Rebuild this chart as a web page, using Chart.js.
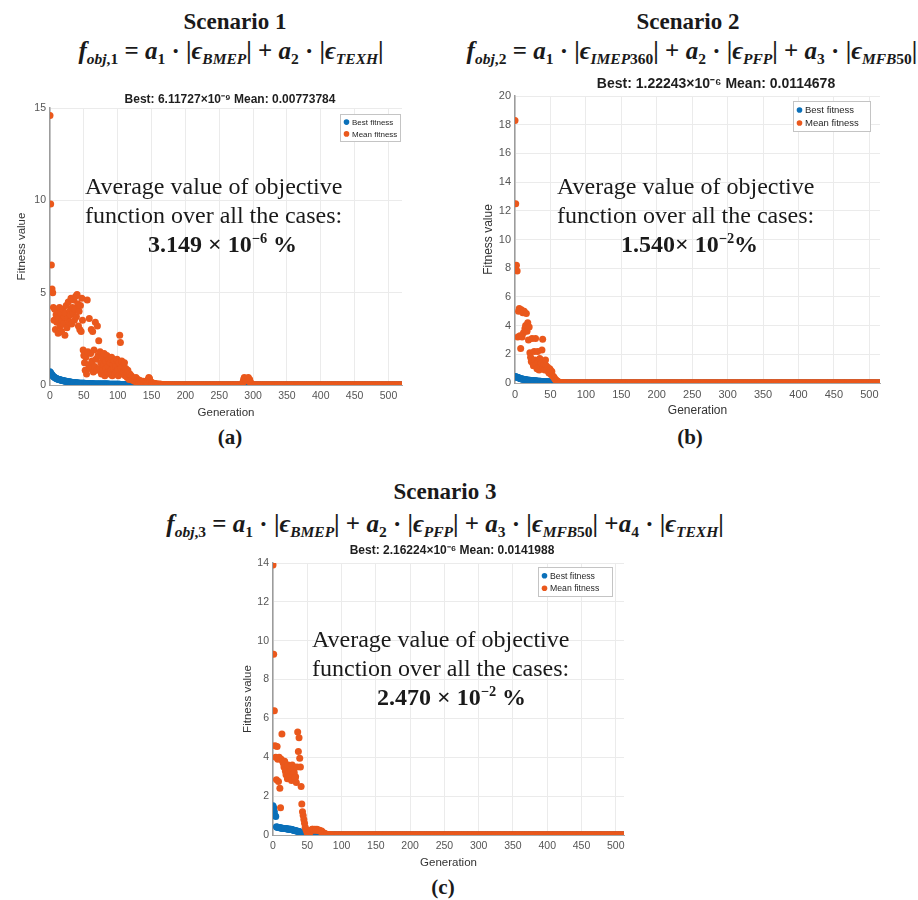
<!DOCTYPE html>
<html>
<head>
<meta charset="utf-8">
<script src="https://cdn.jsdelivr.net/npm/chart.js@4.4.0/dist/chart.umd.min.js"></script>
<style>
body { margin: 0; width: 918px; height: 900px; position: relative; overflow: hidden; background: #fff; color: #1a1a1a; font-family: "Liberation Serif", "Times New Roman", serif; }
canvas { position: absolute; }
.c { position: absolute; transform: translate(-50%, -50%); white-space: nowrap; }
.scen { font-weight: bold; font-size: 23px; }
.formula { font-weight: bold; font-size: 25px; }
.formula sub { font-size: 0.62em; vertical-align: 0; position: relative; top: 0.32em; }
.note { position: absolute; font-size: 24px; line-height: 29px; white-space: nowrap; }
.note sup { font-size: 0.6em; vertical-align: 0; position: relative; top: -0.6em; }
.tag { font-weight: bold; font-size: 21px; }
</style>
</head>
<body>

<div class="c scen" style="left:235px;top:22px">Scenario 1</div>
<div class="c formula" style="left:231px;top:51px"><i>f</i><sub><i>obj</i>,1</sub> = <i>a</i><sub>1</sub> · |<i>ϵ</i><sub><i>BMEP</i></sub>| + <i>a</i><sub>2</sub> · |<i>ϵ</i><sub><i>TEXH</i></sub>|</div>

<div class="c scen" style="left:688px;top:22px">Scenario 2</div>
<div class="c formula" style="left:692px;top:51px"><i>f</i><sub><i>obj</i>,2</sub> = <i>a</i><sub>1</sub> · |<i>ϵ</i><sub><i>IMEP</i>360</sub>| + <i>a</i><sub>2</sub> · |<i>ϵ</i><sub><i>PFP</i></sub>| + <i>a</i><sub>3</sub> · |<i>ϵ</i><sub><i>MFB</i>50</sub>|</div>

<div class="c scen" style="left:445px;top:492px">Scenario 3</div>
<div class="c formula" style="left:445px;top:524px"><i>f</i><sub><i>obj</i>,3</sub> = <i>a</i><sub>1</sub> · |<i>ϵ</i><sub><i>BMEP</i></sub>| + <i>a</i><sub>2</sub> · |<i>ϵ</i><sub><i>PFP</i></sub>| + <i>a</i><sub>3</sub> · |<i>ϵ</i><sub><i>MFB</i>50</sub>| +<i>a</i><sub>4</sub> · |<i>ϵ</i><sub><i>TEXH</i></sub>|</div>

<div class="c tag" style="left:230px;top:437px">(a)</div>
<div class="c tag" style="left:690px;top:437px">(b)</div>
<div class="c tag" style="left:443px;top:887px">(c)</div>

<script>
// generation axis ends
const xMaxA = 520, xMaxB = 515, xMaxC = 512;
const yMaxA = 15, yMaxB = 20, yMaxC = 14;
const yStepA = 5, yStepB = 2, yStepC = 2;

const titleA = 'Best: 6.11727\u00d710\u207b\u2079 Mean: 0.00773784';
const titleB = 'Best: 1.22243\u00d710\u207b\u2076 Mean: 0.0114678';
const titleC = 'Best: 2.16224\u00d710\u207b\u2076 Mean: 0.0141988';
const seriesNames = ['Best fitness', 'Mean fitness'];

// scenario 1, one value per generation
const meanA = [
  14.6, 9.8, 6.5, 5.2, 5.0, 4.2, 3.5, 4.1, 3.0, 3.8, 3.4, 4.0, 2.8, 3.6, 4.2, 3.2, 3.9, 2.9, 3.5, 4.1,
  3.3, 3.7, 2.7, 3.9, 4.3, 3.1, 3.6, 4.5, 3.4, 4.0, 3.8, 4.7, 3.3, 4.2, 3.9, 4.6, 3.5, 4.1, 4.8, 3.7,
  4.9, 4.4, 3.2, 4.0, 3.0, 4.3, 2.9, 4.7, 3.5, 1.9, 1.6, 1.2, 0.8, 1.5, 0.6, 4.6, 1.8, 1.1, 3.6, 0.9,
  1.7, 3.0, 1.3, 2.9, 0.7, 1.9, 1.0, 3.4, 1.4, 0.8, 3.2, 1.6, 2.4, 0.9, 1.8, 1.2, 0.6, 1.5, 0.8, 1.1,
  1.7, 0.5, 1.3, 0.9, 1.6, 0.7, 1.0, 1.4, 0.6, 1.2, 0.8, 1.5, 0.5, 1.1, 0.9, 1.3, 0.6, 1.0, 0.7, 1.4,
  0.8, 0.5, 1.2, 2.7, 2.3, 0.9, 1.3, 0.6, 1.0, 0.7, 1.2, 0.5, 0.9, 0.6, 0.4, 0.8, 0.5, 0.3, 0.6, 0.4,
  0.5, 0.3, 0.4, 0.25, 0.35, 0.2, 0.3, 0.4, 0.15, 0.25, 0.3, 0.2, 0.15, 0.25, 0.1, 0.2, 0.15, 0.1, 0.2, 0.12,
  0.1, 0.15, 0.12, 0.2, 0.1, 0.3, 0.4, 0.35, 0.2, 0.1, 0.15, 0.1, 0.08, 0.1, 0.06, 0.08, 0.05, 0.06, 0.04, 0.05,
  0.04, 0.03, 0.05, 0.03, 0.04, 0.03, 0.03, 0.02, 0.03, 0.02, 0.02, 0.02, 0.01, 0.02, 0.01, 0.01, 0.01, 0, 0, 0,
  0,0,0,0,0, 0,0,0,0,0, 0,0,0,0,0, 0,0,0,0,0,
  0,0,0,0,0, 0,0,0,0,0, 0,0,0,0,0, 0,0,0,0,0,
  0,0,0,0,0, 0,0,0,0,0, 0,0,0,0,0, 0,0,0,0,0,
  0,0,0,0,0, 0,0,0,0,0, 0,0,0,0,0, 0,0,0,0,0,
  0,0,0,0,0, 0,0,0,0,0, 0,0,0,0,0, 0,0,0,0,0,
  0, 0, 0, 0, 0, 0.15, 0.3, 0.4, 0.35, 0.3, 0.25, 0.35, 0.3, 0.4, 0.2, 0.3, 0.15, 0.1, 0.05, 0,
  0,0,0,0,0, 0,0,0,0,0, 0,0,0,0,0, 0,0,0,0,0,
  0,0,0,0,0, 0,0,0,0,0, 0,0,0,0,0, 0,0,0,0,0,
  0,0,0,0,0, 0,0,0,0,0, 0,0,0,0,0, 0,0,0,0,0,
  0,0,0,0,0, 0,0,0,0,0, 0,0,0,0,0, 0,0,0,0,0,
  0,0,0,0,0, 0,0,0,0,0, 0,0,0,0,0, 0,0,0,0,0,
  0,0,0,0,0, 0,0,0,0,0, 0,0,0,0,0, 0,0,0,0,0,
  0,0,0,0,0, 0,0,0,0,0, 0,0,0,0,0, 0,0,0,0,0,
  0,0,0,0,0, 0,0,0,0,0, 0,0,0,0,0, 0,0,0,0,0,
  0,0,0,0,0, 0,0,0,0,0, 0,0,0,0,0, 0,0,0,0,0,
  0,0,0,0,0, 0,0,0,0,0, 0,0,0,0,0, 0,0,0,0,0,
  0,0,0,0,0, 0,0,0,0,0, 0,0,0,0,0, 0,0,0,0,0,
  0
];
const bestA = [
  0.72, 0.66, 0.6, 0.55, 0.5, 0.46, 0.43, 0.4, 0.38, 0.36, 0.34, 0.32, 0.31, 0.3, 0.29, 0.28, 0.27, 0.26, 0.25, 0.24,
  0.23, 0.22, 0.21, 0.2, 0.2, 0.19, 0.18, 0.18, 0.17, 0.16, 0.16, 0.15, 0.15, 0.14, 0.14, 0.13, 0.13, 0.12, 0.12, 0.12,
  0.11, 0.11, 0.11, 0.1, 0.1, 0.1, 0.1, 0.09, 0.09, 0.09, 0.09, 0.09, 0.08, 0.08, 0.08, 0.08, 0.08, 0.08, 0.07, 0.07,
  0.07, 0.07, 0.07, 0.07, 0.07, 0.06, 0.06, 0.06, 0.06, 0.06, 0.06, 0.06, 0.06, 0.05, 0.05, 0.05, 0.05, 0.05, 0.05, 0.05,
  0.05, 0.05, 0.05, 0.05, 0.05, 0.05, 0.05, 0.04, 0.04, 0.04, 0.04, 0.04, 0.04, 0.04, 0.04, 0.04, 0.04, 0.04, 0.04, 0.04,
  0.04, 0.04, 0.04, 0.04, 0.03, 0.03, 0.03, 0.03, 0.03, 0.03, 0.03, 0.03, 0.03, 0.03, 0.03, 0.03, 0.03, 0.03, 0.03, 0.03,
  0.03, 0.03, 0.03, 0.03, 0.03, 0.02, 0.02, 0.02, 0.02, 0.02, 0.02, 0.02, 0.02, 0.02, 0.02, 0.02, 0.02, 0.02, 0.02, 0.02,
  0.02, 0.02, 0.02, 0.02, 0.02, 0.02, 0.02, 0.02, 0.02, 0.02, 0.01, 0.01, 0.01, 0.01, 0.01, 0.01, 0.01, 0.01, 0.01, 0.01,
  0.01, 0.01, 0.01, 0.01, 0.01, 0.01, 0.01, 0.01, 0.01, 0.01, 0, 0, 0, 0, 0, 0, 0, 0, 0, 0,
  0,0,0,0,0, 0,0,0,0,0, 0,0,0,0,0, 0,0,0,0,0,
  0,0,0,0,0, 0,0,0,0,0, 0,0,0,0,0, 0,0,0,0,0,
  0,0,0,0,0, 0,0,0,0,0, 0,0,0,0,0, 0,0,0,0,0,
  0,0,0,0,0, 0,0,0,0,0, 0,0,0,0,0, 0,0,0,0,0,
  0,0,0,0,0, 0,0,0,0,0, 0,0,0,0,0, 0,0,0,0,0,
  0, 0, 0, 0, 0, 0.03, 0.05, 0.08, 0.1, 0.1, 0.08, 0.06, 0.05, 0.04, 0.03, 0.02, 0.01, 0, 0, 0,
  0,0,0,0,0, 0,0,0,0,0, 0,0,0,0,0, 0,0,0,0,0,
  0,0,0,0,0, 0,0,0,0,0, 0,0,0,0,0, 0,0,0,0,0,
  0,0,0,0,0, 0,0,0,0,0, 0,0,0,0,0, 0,0,0,0,0,
  0,0,0,0,0, 0,0,0,0,0, 0,0,0,0,0, 0,0,0,0,0,
  0,0,0,0,0, 0,0,0,0,0, 0,0,0,0,0, 0,0,0,0,0,
  0,0,0,0,0, 0,0,0,0,0, 0,0,0,0,0, 0,0,0,0,0,
  0,0,0,0,0, 0,0,0,0,0, 0,0,0,0,0, 0,0,0,0,0,
  0,0,0,0,0, 0,0,0,0,0, 0,0,0,0,0, 0,0,0,0,0,
  0,0,0,0,0, 0,0,0,0,0, 0,0,0,0,0, 0,0,0,0,0,
  0,0,0,0,0, 0,0,0,0,0, 0,0,0,0,0, 0,0,0,0,0,
  0,0,0,0,0, 0,0,0,0,0, 0,0,0,0,0, 0,0,0,0,0,
  0
];

// scenario 2
const meanB = [
  18.3, 12.5, 8.2, 7.8, 3.2, 5.0, 5.2, 3.3, 2.4, 5.1, 3.2, 4.9, 3.5, 5.0, 3.8, 4.0, 4.85, 3.6, 4.2, 3.0,
  3.9, 2.1, 1.8, 1.5, 3.1, 1.4, 1.2, 2.2, 1.6, 3.1, 1.3, 1.0, 2.2, 1.5, 0.9, 1.7, 1.2, 1.4, 2.3, 3.05,
  1.1, 1.3, 0.9, 1.6, 1.2, 0.95, 1.1, 0.8, 0.7, 1.0, 0.9, 0.6, 0.8, 0.5, 0.45, 0.4, 0.3, 0.25, 0.2, 0.15,
  0.1, 0.08, 0.06, 0.05, 0.04, 0.03, 0.02, 0.02, 0.01, 0.01, 0, 0, 0, 0, 0, 0, 0, 0, 0, 0,
  0,0,0,0,0, 0,0,0,0,0, 0,0,0,0,0, 0,0,0,0,0,
  0,0,0,0,0, 0,0,0,0,0, 0,0,0,0,0, 0,0,0,0,0,
  0,0,0,0,0, 0,0,0,0,0, 0,0,0,0,0, 0,0,0,0,0,
  0,0,0,0,0, 0,0,0,0,0, 0,0,0,0,0, 0,0,0,0,0,
  0,0,0,0,0, 0,0,0,0,0, 0,0,0,0,0, 0,0,0,0,0,
  0,0,0,0,0, 0,0,0,0,0, 0,0,0,0,0, 0,0,0,0,0,
  0,0,0,0,0, 0,0,0,0,0, 0,0,0,0,0, 0,0,0,0,0,
  0,0,0,0,0, 0,0,0,0,0, 0,0,0,0,0, 0,0,0,0,0,
  0,0,0,0,0, 0,0,0,0,0, 0,0,0,0,0, 0,0,0,0,0,
  0,0,0,0,0, 0,0,0,0,0, 0,0,0,0,0, 0,0,0,0,0,
  0,0,0,0,0, 0,0,0,0,0, 0,0,0,0,0, 0,0,0,0,0,
  0,0,0,0,0, 0,0,0,0,0, 0,0,0,0,0, 0,0,0,0,0,
  0,0,0,0,0, 0,0,0,0,0, 0,0,0,0,0, 0,0,0,0,0,
  0,0,0,0,0, 0,0,0,0,0, 0,0,0,0,0, 0,0,0,0,0,
  0,0,0,0,0, 0,0,0,0,0, 0,0,0,0,0, 0,0,0,0,0,
  0,0,0,0,0, 0,0,0,0,0, 0,0,0,0,0, 0,0,0,0,0,
  0,0,0,0,0, 0,0,0,0,0, 0,0,0,0,0, 0,0,0,0,0,
  0,0,0,0,0, 0,0,0,0,0, 0,0,0,0,0, 0,0,0,0,0,
  0,0,0,0,0, 0,0,0,0,0, 0,0,0,0,0, 0,0,0,0,0,
  0,0,0,0,0, 0,0,0,0,0, 0,0,0,0,0, 0,0,0,0,0,
  0,0,0,0,0, 0,0,0,0,0, 0,0,0,0,0, 0,0,0,0,0,
  0,0,0,0,0, 0,0,0,0,0, 0,0,0,0,0, 0
];
const bestB = [
  0.45, 0.44, 0.42, 0.4, 0.38, 0.36, 0.34, 0.32, 0.3, 0.29, 0.28, 0.27, 0.26, 0.25, 0.24, 0.23, 0.22, 0.21, 0.2, 0.2,
  0.19, 0.19, 0.18, 0.18, 0.17, 0.17, 0.16, 0.16, 0.15, 0.15, 0.14, 0.14, 0.13, 0.13, 0.12, 0.12, 0.12, 0.11, 0.11, 0.11,
  0.1, 0.1, 0.1, 0.09, 0.09, 0.09, 0.08, 0.08, 0.08, 0.07, 0.07, 0.06, 0.06, 0.05, 0.05, 0.04, 0.04, 0.03, 0.03, 0.02,
  0.02, 0.02, 0.01, 0.01, 0.01, 0, 0, 0, 0, 0, 0, 0, 0, 0, 0, 0, 0, 0, 0, 0,
  0,0,0,0,0, 0,0,0,0,0, 0,0,0,0,0, 0,0,0,0,0,
  0,0,0,0,0, 0,0,0,0,0, 0,0,0,0,0, 0,0,0,0,0,
  0,0,0,0,0, 0,0,0,0,0, 0,0,0,0,0, 0,0,0,0,0,
  0,0,0,0,0, 0,0,0,0,0, 0,0,0,0,0, 0,0,0,0,0,
  0,0,0,0,0, 0,0,0,0,0, 0,0,0,0,0, 0,0,0,0,0,
  0,0,0,0,0, 0,0,0,0,0, 0,0,0,0,0, 0,0,0,0,0,
  0,0,0,0,0, 0,0,0,0,0, 0,0,0,0,0, 0,0,0,0,0,
  0,0,0,0,0, 0,0,0,0,0, 0,0,0,0,0, 0,0,0,0,0,
  0,0,0,0,0, 0,0,0,0,0, 0,0,0,0,0, 0,0,0,0,0,
  0,0,0,0,0, 0,0,0,0,0, 0,0,0,0,0, 0,0,0,0,0,
  0,0,0,0,0, 0,0,0,0,0, 0,0,0,0,0, 0,0,0,0,0,
  0,0,0,0,0, 0,0,0,0,0, 0,0,0,0,0, 0,0,0,0,0,
  0,0,0,0,0, 0,0,0,0,0, 0,0,0,0,0, 0,0,0,0,0,
  0,0,0,0,0, 0,0,0,0,0, 0,0,0,0,0, 0,0,0,0,0,
  0,0,0,0,0, 0,0,0,0,0, 0,0,0,0,0, 0,0,0,0,0,
  0,0,0,0,0, 0,0,0,0,0, 0,0,0,0,0, 0,0,0,0,0,
  0,0,0,0,0, 0,0,0,0,0, 0,0,0,0,0, 0,0,0,0,0,
  0,0,0,0,0, 0,0,0,0,0, 0,0,0,0,0, 0,0,0,0,0,
  0,0,0,0,0, 0,0,0,0,0, 0,0,0,0,0, 0,0,0,0,0,
  0,0,0,0,0, 0,0,0,0,0, 0,0,0,0,0, 0,0,0,0,0,
  0,0,0,0,0, 0,0,0,0,0, 0,0,0,0,0, 0,0,0,0,0,
  0,0,0,0,0, 0,0,0,0,0, 0,0,0,0,0, 0
];

// scenario 3
const meanC = [
  13.9, 9.3, 6.4, 4.6, 4.0, 2.85, 4.55, 3.9, 2.75, 4.0, 2.4, 1.4, 3.9, 5.2, 3.8, 3.7, 3.5, 3.8, 3.3, 3.1,
  3.4, 2.9, 3.6, 3.2, 3.0, 3.5, 3.3, 2.8, 3.6, 3.1, 3.4, 3.2, 2.9, 3.0, 2.7, 3.5, 5.3, 4.3, 5.0, 3.95,
  3.5, 2.5, 1.6, 1.2, 1.0, 0.8, 0.6, 0.4, 0.3, 0.2, 0.1, 0.05, 0.05, 0.08, 0.15, 0.2, 0.25, 0.3, 0.3, 0.28,
  0.25, 0.3, 0.28, 0.25, 0.3, 0.27, 0.25, 0.22, 0.25, 0.2, 0.18, 0.2, 0.15, 0.12, 0.1, 0.08, 0.06, 0.05, 0.04, 0.03,
  0.02, 0.02, 0.01, 0.01, 0.01, 0, 0, 0, 0, 0, 0, 0, 0, 0, 0, 0, 0, 0, 0, 0,
  0,0,0,0,0, 0,0,0,0,0, 0,0,0,0,0, 0,0,0,0,0,
  0,0,0,0,0, 0,0,0,0,0, 0,0,0,0,0, 0,0,0,0,0,
  0,0,0,0,0, 0,0,0,0,0, 0,0,0,0,0, 0,0,0,0,0,
  0,0,0,0,0, 0,0,0,0,0, 0,0,0,0,0, 0,0,0,0,0,
  0,0,0,0,0, 0,0,0,0,0, 0,0,0,0,0, 0,0,0,0,0,
  0,0,0,0,0, 0,0,0,0,0, 0,0,0,0,0, 0,0,0,0,0,
  0,0,0,0,0, 0,0,0,0,0, 0,0,0,0,0, 0,0,0,0,0,
  0,0,0,0,0, 0,0,0,0,0, 0,0,0,0,0, 0,0,0,0,0,
  0,0,0,0,0, 0,0,0,0,0, 0,0,0,0,0, 0,0,0,0,0,
  0,0,0,0,0, 0,0,0,0,0, 0,0,0,0,0, 0,0,0,0,0,
  0,0,0,0,0, 0,0,0,0,0, 0,0,0,0,0, 0,0,0,0,0,
  0,0,0,0,0, 0,0,0,0,0, 0,0,0,0,0, 0,0,0,0,0,
  0,0,0,0,0, 0,0,0,0,0, 0,0,0,0,0, 0,0,0,0,0,
  0,0,0,0,0, 0,0,0,0,0, 0,0,0,0,0, 0,0,0,0,0,
  0,0,0,0,0, 0,0,0,0,0, 0,0,0,0,0, 0,0,0,0,0,
  0,0,0,0,0, 0,0,0,0,0, 0,0,0,0,0, 0,0,0,0,0,
  0,0,0,0,0, 0,0,0,0,0, 0,0,0,0,0, 0,0,0,0,0,
  0,0,0,0,0, 0,0,0,0,0, 0,0,0,0,0, 0,0,0,0,0,
  0,0,0,0,0, 0,0,0,0,0, 0,0,0,0,0, 0,0,0,0,0,
  0,0,0,0,0, 0,0,0,0,0, 0,0,0,0,0, 0,0,0,0,0,
  0,0,0,0,0, 0,0,0,0,0, 0,0,0
];
const bestC = [
  1.5, 1.4, 1.2, 1.0, 0.95, 0.42, 0.4, 0.4, 0.38, 0.38, 0.37, 0.36, 0.36, 0.35, 0.35, 0.34, 0.34, 0.33, 0.33, 0.32,
  0.32, 0.31, 0.31, 0.3, 0.3, 0.3, 0.29, 0.28, 0.27, 0.26, 0.25, 0.24, 0.23, 0.22, 0.21, 0.2, 0.19, 0.18, 0.17, 0.16,
  0.15, 0.14, 0.13, 0.12, 0.11, 0.1, 0.09, 0.08, 0.07, 0.06, 0.05, 0.05, 0.04, 0.04, 0.03, 0.03, 0.03, 0.02, 0.02, 0.02,
  0.02, 0.01, 0.01, 0.01, 0, 0, 0, 0, 0, 0, 0, 0, 0, 0, 0, 0, 0, 0, 0, 0,
  0,0,0,0,0, 0,0,0,0,0, 0,0,0,0,0, 0,0,0,0,0,
  0,0,0,0,0, 0,0,0,0,0, 0,0,0,0,0, 0,0,0,0,0,
  0,0,0,0,0, 0,0,0,0,0, 0,0,0,0,0, 0,0,0,0,0,
  0,0,0,0,0, 0,0,0,0,0, 0,0,0,0,0, 0,0,0,0,0,
  0,0,0,0,0, 0,0,0,0,0, 0,0,0,0,0, 0,0,0,0,0,
  0,0,0,0,0, 0,0,0,0,0, 0,0,0,0,0, 0,0,0,0,0,
  0,0,0,0,0, 0,0,0,0,0, 0,0,0,0,0, 0,0,0,0,0,
  0,0,0,0,0, 0,0,0,0,0, 0,0,0,0,0, 0,0,0,0,0,
  0,0,0,0,0, 0,0,0,0,0, 0,0,0,0,0, 0,0,0,0,0,
  0,0,0,0,0, 0,0,0,0,0, 0,0,0,0,0, 0,0,0,0,0,
  0,0,0,0,0, 0,0,0,0,0, 0,0,0,0,0, 0,0,0,0,0,
  0,0,0,0,0, 0,0,0,0,0, 0,0,0,0,0, 0,0,0,0,0,
  0,0,0,0,0, 0,0,0,0,0, 0,0,0,0,0, 0,0,0,0,0,
  0,0,0,0,0, 0,0,0,0,0, 0,0,0,0,0, 0,0,0,0,0,
  0,0,0,0,0, 0,0,0,0,0, 0,0,0,0,0, 0,0,0,0,0,
  0,0,0,0,0, 0,0,0,0,0, 0,0,0,0,0, 0,0,0,0,0,
  0,0,0,0,0, 0,0,0,0,0, 0,0,0,0,0, 0,0,0,0,0,
  0,0,0,0,0, 0,0,0,0,0, 0,0,0,0,0, 0,0,0,0,0,
  0,0,0,0,0, 0,0,0,0,0, 0,0,0,0,0, 0,0,0,0,0,
  0,0,0,0,0, 0,0,0,0,0, 0,0,0,0,0, 0,0,0,0,0,
  0,0,0,0,0, 0,0,0,0,0, 0,0,0,0,0, 0,0,0,0,0,
  0,0,0,0,0, 0,0,0,0,0, 0,0,0
];

const BLUE = '#0b70b9';
const ORANGE = '#ea581c';
const SANS = '"Liberation Sans", Arial, sans-serif';
Chart.defaults.font.family = SANS;

function toPoints(values) {
    return values.map((v, g) => ({ x: g, y: v }));
}

// plot = [left, top, right, bottom] of the axes box on the page
function drawPanel(best, mean, xMax, yMax, yStep, plot, look) {
    const [L, T, R, B] = plot;
    const axisW = 45, axisH = 36, padTop = 30, padRight = 12;
    const cx = L - axisW, cy = T - padTop;

    const canvas = document.createElement('canvas');
    canvas.width = R - L + axisW + padRight;
    canvas.height = B - T + padTop + axisH;
    canvas.style.left = cx + 'px';
    canvas.style.top = cy + 'px';
    document.body.appendChild(canvas);

    // title above the axes and the boxed legend in the top right corner
    const overlay = {
        id: 'overlay',
        afterDraw(chart) {
            const ctx = chart.ctx;
            ctx.save();
            ctx.textAlign = 'center';
            ctx.textBaseline = 'middle';
            ctx.fillStyle = '#1e1e1e';
            ctx.font = 'bold ' + look.titleSize + 'px ' + SANS;
            ctx.fillText(look.title, look.titleAt[0] - cx, look.titleAt[1] - cy);

            const [lx, ly, lw, lh] = look.legend;
            const x0 = lx - cx, y0 = ly - cy;
            ctx.fillStyle = '#fff';
            ctx.fillRect(x0, y0, lw, lh);
            ctx.strokeStyle = '#c4c4c4';
            ctx.lineWidth = 1;
            ctx.strokeRect(x0 + 0.5, y0 + 0.5, lw - 1, lh - 1);
            ctx.textAlign = 'left';
            ctx.font = look.legendSize + 'px ' + SANS;
            chart.data.datasets.forEach((ds, i) => {
                const ry = y0 + lh * (i === 0 ? 0.29 : 0.71);
                ctx.fillStyle = ds.backgroundColor;
                ctx.beginPath();
                ctx.arc(x0 + 6.5, ry, 2.8, 0, Math.PI * 2);
                ctx.fill();
                ctx.fillStyle = '#262626';
                ctx.fillText(ds.label, x0 + 12, ry + 0.5);
            });
            ctx.restore();
        }
    };

    new Chart(canvas.getContext('2d'), {
        type: 'scatter',
        data: {
            datasets: [
                { label: seriesNames[0], data: toPoints(best), backgroundColor: BLUE, pointRadius: 3.5, pointBorderWidth: 0, order: 2 },
                { label: seriesNames[1], data: toPoints(mean), backgroundColor: ORANGE, pointRadius: 3.5, pointBorderWidth: 0, order: 1 }
            ]
        },
        options: {
            responsive: false,
            animation: false,
            events: [],
            layout: { autoPadding: false, padding: { left: 0, top: padTop, right: padRight, bottom: 0 } },
            plugins: { legend: { display: false }, tooltip: { enabled: false } },
            scales: {
                x: {
                    type: 'linear',
                    min: 0,
                    max: xMax,
                    ticks: { stepSize: 50, includeBounds: false, autoSkip: false, maxRotation: 0, padding: 5, color: '#555', font: { size: look.tickSize } },
                    grid: { color: '#ebebeb', drawTicks: false },
                    border: { color: '#a8a8a8', width: 1 },
                    title: { display: true, text: 'Generation', color: '#333', font: { size: look.axisSize }, padding: { top: 0, bottom: 1.5 } },
                    afterFit(s) { s.height = axisH; }
                },
                y: {
                    min: 0,
                    max: yMax,
                    ticks: { stepSize: yStep, padding: 4, color: '#555', font: { size: look.tickSize } },
                    grid: { color: '#ebebeb', drawTicks: false },
                    border: { color: '#9c9c9c', width: 1.5 },
                    title: { display: true, text: 'Fitness value', color: '#333', font: { size: look.axisSize }, padding: { top: look.yTitlePad, bottom: 0 } },
                    afterFit(s) { s.width = axisW; }
                }
            }
        },
        plugins: [overlay]
    });
}

drawPanel(bestA, meanA, xMaxA, yMaxA, yStepA, [50, 108, 402, 385], {
    title: titleA, titleAt: [230, 100], titleSize: 12,
    legend: [340, 114, 61, 28], legendSize: 8,
    tickSize: 10.5, axisSize: 11.5, yTitlePad: 10
});
drawPanel(bestB, meanB, xMaxB, yMaxB, yStepB, [515, 96, 880, 383], {
    title: titleB, titleAt: [716, 84], titleSize: 14,
    legend: [793, 101, 78, 31], legendSize: 9.5,
    tickSize: 11, axisSize: 12, yTitlePad: 11
});
drawPanel(bestC, meanC, xMaxC, yMaxC, yStepC, [273, 563, 624, 835], {
    title: titleC, titleAt: [452, 551], titleSize: 12,
    legend: [538, 567, 75, 30], legendSize: 8.7,
    tickSize: 10.5, axisSize: 11.5, yTitlePad: 13
});
</script>

<div class="note" style="left:85px;top:172px">Average value of objective<br>function over all the cases:<br><b style="margin-left:63px">3.149 × 10<sup>−6</sup> %</b></div>
<div class="note" style="left:557px;top:172px">Average value of objective<br>function over all the cases:<br><b style="margin-left:64px">1.540× 10<sup>−2</sup>%</b></div>
<div class="note" style="left:312px;top:625px">Average value of objective<br>function over all the cases:<br><b style="margin-left:65px">2.470 × 10<sup>−2</sup> %</b></div>

</body>
</html>
